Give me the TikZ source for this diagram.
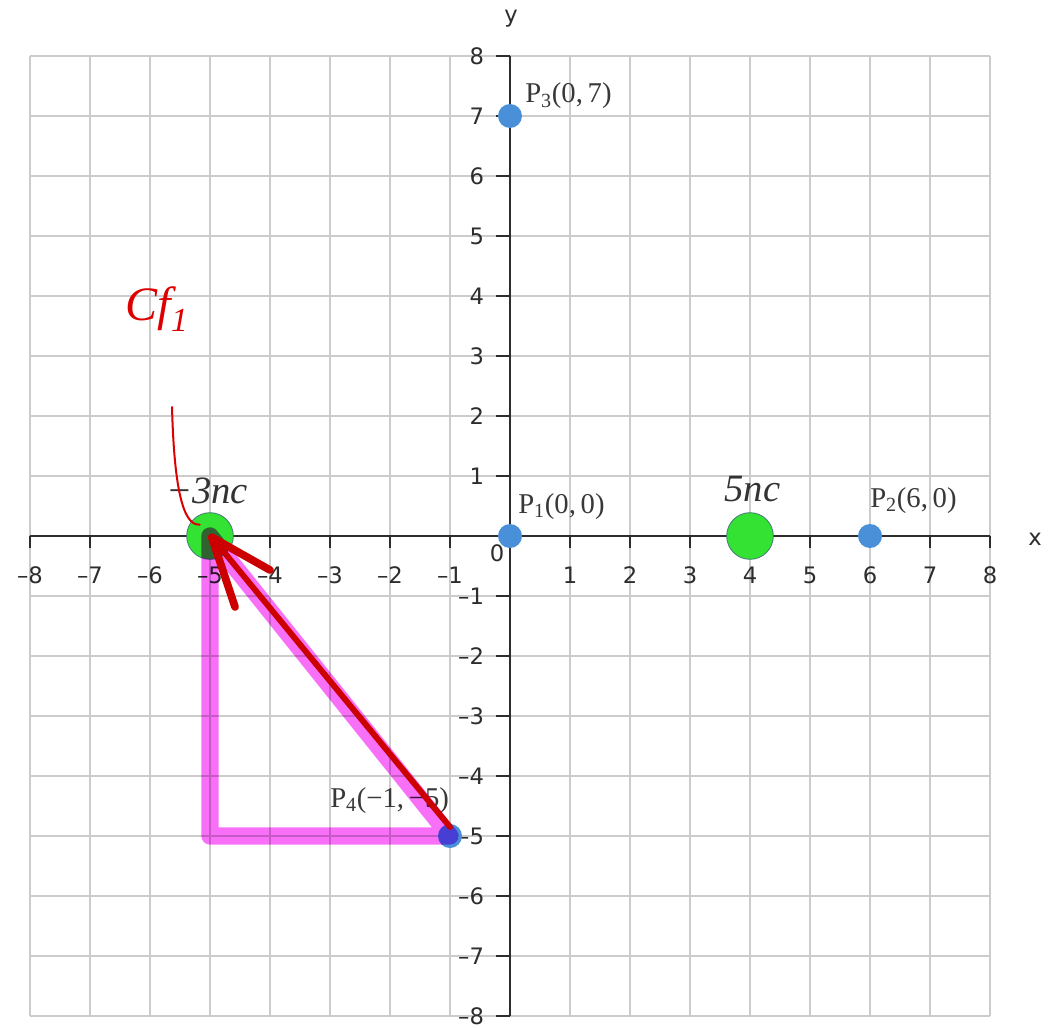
\documentclass[tikz,border=0pt]{standalone}
\usepackage{fontspec}
\setmainfont{Liberation Serif}
\newfontfamily\tickfont{DejaVu Sans}
\definecolor{gridc}{RGB}{204,204,204}
\definecolor{axisc}{RGB}{45,45,45}
\definecolor{ptblue}{RGB}{74,144,217}
\definecolor{chgreen}{RGB}{51,226,51}
\definecolor{chedge}{RGB}{70,120,120}
\definecolor{magc}{RGB}{248,112,248}
\definecolor{arrred}{RGB}{204,0,0}
\definecolor{handred}{RGB}{220,0,0}
\begin{document}
\begin{tikzpicture}[x=45pt,y=45pt,
  tl/.style={font=\tickfont\fontsize{17}{17}\selectfont, text=axisc, inner sep=0pt},
  gridline/.style={gridc, line width=1.5pt},
  axisline/.style={axisc, line width=1.5pt},
  bpt/.style={circle, fill=ptblue, minimum size=18pt, inner sep=0pt},
  charge/.style={circle, fill=chgreen, draw=chedge, line width=0.6pt, minimum size=35pt, inner sep=0pt},
  plbl/.style={font=\fontsize{21.5}{21.5}\selectfont, text=black!78, inner sep=0pt, anchor=base west},
  clbl/.style={font=\itshape\fontsize{29}{29}\selectfont, text=black!80, inner sep=0pt, anchor=base},
  magpath/.style={magc, line width=13pt, line cap=round, line join=round},
  redbody/.style={arrred, line width=4.4pt, line cap=round},
  redhead/.style={arrred, line width=5.8pt, line cap=round, line join=round},
  hand/.style={handred, line width=1.5pt, line cap=round}
]
\fill[white] (-8.5,-8.2) rectangle (9.1333,8.9333);
\useasboundingbox (-8.5,-8.2) rectangle (9.1333,8.9333);
% grid
\draw[gridline, step=1] (-8,-8) grid (8,8);
% axes
\draw[axisline] (-8,0) -- (8,0);
\draw[axisline] (0,-8) -- (0,8);
\foreach \i in {-8,...,8} {
  \draw[axisline] (\i,0) -- (\i,-0.2);
  \draw[axisline] (0,\i) -- (-0.23,\i);
}
% tick labels
\foreach \i in {1,...,8} {
  \node[tl] (xp\i) at (\i,-0.65) {\i};
  \node[tl] (xn\i) at (-\i,-0.65) {–\i};
  \node[tl,anchor=east] (yp\i) at (-0.43,\i) {\i};
  \node[tl,anchor=east] (yn\i) at (-0.43,-\i) {–\i};
}
\node[tl] (zero) at (-0.217,-0.283) {0};
\node[tl] (xlab) at (8.75,-0.05) {x};
\node[tl] (ylab) at (0.017,8.62) {y};
% points
\node[bpt] (P1) at (0,0) {};
\node[bpt] (P2) at (6,0) {};
\node[bpt] (P3) at (0,7) {};
\node[bpt] (P4) at (-1,-5) {};
% charges
\node[charge] (Q1) at (-5,0) {};
\node[charge] (Q2) at (4,0) {};
% point labels
\node[plbl] (P1l) at (0.133,0.383) {P\textsubscript{1}(0,\,0)};
\node[plbl] (P2l) at (6.0,0.483) {P\textsubscript{2}(6,\,0)};
\node[plbl] (P3l) at (0.25,7.217) {P\textsubscript{3}(0,\,7)};
\node[plbl] (P4l) at (-3.0,-4.517) {P\textsubscript{4}(−1,\,−5)};
% charge labels
\node[clbl] (Q1l) at (-5.05,0.55) {−3nc};
\node[clbl] (Q2l) at (4.04,0.567) {5nc};
% magenta triangle
\coordinate (corner) at (-5,-5);
\begin{scope}[blend mode=multiply]
\draw[magpath] (Q1.center) -- (corner) -- (P4.center) -- cycle;
\end{scope}
% red arrow
\coordinate (tail) at (-1,-4.85);
\coordinate (tip) at (-4.97,-0.02);
\coordinate (h1) at (-4.0,-0.567);
\coordinate (h2) at (-4.583,-1.183);
\draw[redbody] (tail) -- (tip);
\draw[redhead] (h1) -- (tip) -- (h2);
% handwriting
\node[text=handred, font=\itshape\fontsize{36}{36}\selectfont, inner sep=0pt] (note) at (-5.88,3.78) {Cf\textsubscript{1}};
\coordinate (hs) at (-5.633,2.15);
\coordinate (he) at (-5.17,0.19);
\draw[hand] (hs) .. controls (-5.6,0.9) and (-5.47,0.16) .. (he);
\end{tikzpicture}
\end{document}
